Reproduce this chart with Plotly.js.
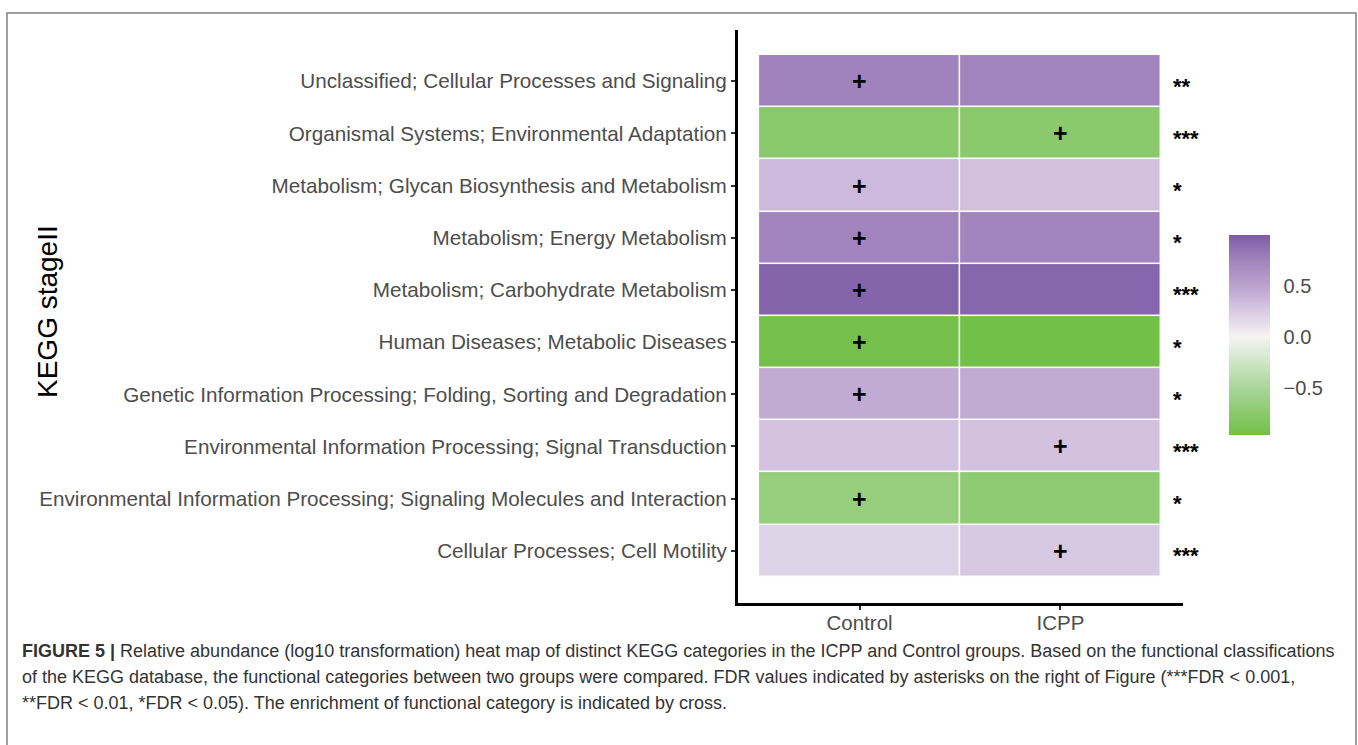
<!DOCTYPE html>
<html>
<head>
<meta charset="utf-8">
<script src="https://cdn.plot.ly/plotly-3.0.1.min.js"></script>
<style>
  html, body { margin: 0; padding: 0; background: #ffffff; }
  #chart { width: 1358px; height: 745px; }
</style>
</head>
<body>
<div id="chart"></div>
<script>
// KEGG level-II categories, listed bottom to top
const categories = [
  'Cellular Processes; Cell Motility',
  'Environmental Information Processing; Signaling Molecules and Interaction',
  'Environmental Information Processing; Signal Transduction',
  'Genetic Information Processing; Folding, Sorting and Degradation',
  'Human Diseases; Metabolic Diseases',
  'Metabolism; Carbohydrate Metabolism',
  'Metabolism; Energy Metabolism',
  'Metabolism; Glycan Biosynthesis and Metabolism',
  'Organismal Systems; Environmental Adaptation',
  'Unclassified; Cellular Processes and Signaling'
];
const groups = ['Control', 'ICPP'];

// relative abundance (log10, scaled) per category
const controlValues = [0.20, -0.66, 0.30, 0.45, -0.94, 0.95, 0.75, 0.36, -0.76, 0.76];
const icppValues    = [0.26, -0.72, 0.31, 0.45, -0.95, 0.94, 0.74, 0.32, -0.75, 0.75];

// group in which each category is enriched (marked with a cross)
const enrichedIn = ['ICPP', 'Control', 'ICPP', 'Control', 'Control', 'Control', 'Control', 'Control', 'ICPP', 'Control'];

// FDR significance marks
const fdrStars = ['***', '*', '***', '*', '*', '***', '*', '*', '***', '**'];

// colour bar ticks
const barTickValues = [-0.5, 0, 0.5];
const barTickLabels = ['\u22120.5', '0.0', '0.5'];

// ---------------------------------------------------------------
const W = 1358, H = 745;
const M = { l: 738, r: 175, t: 30, b: 142 };
const plotW = W - M.l - M.r, plotH = H - M.t - M.b;
const px = x => (x - M.l) / plotW;
const py = y => (H - M.b - y) / plotH;

const zMin = -0.96, zMax = 1.0;
const colorStops = [
  [-0.96, '#72bf46'],
  [-0.5,  '#a9d69a'],
  [0.0,   '#f4f4f2'],
  [0.25,  '#d9cbe4'],
  [0.5,   '#bba3cf'],
  [0.75,  '#a184bd'],
  [1.0,   '#7d5ca6']
];
const colorscale = colorStops.map(([v, c]) => [(v - zMin) / (zMax - zMin), c]);

// colour bar box (pixels)
const bar = { left: 1229, top: 235, width: 41, height: 200 };

const rowIdx = categories.map((_, i) => i);
const colIdx = groups.map((_, j) => j);
const z = categories.map((_, i) => [controlValues[i], icppValues[i]]);

const heat = {
  type: 'heatmap',
  x: colIdx,
  y: rowIdx,
  z: z,
  zmin: zMin,
  zmax: zMax,
  colorscale: colorscale,
  xgap: 1.5,
  ygap: 1.5,
  hoverinfo: 'skip',
  colorbar: {
    x: px(bar.left), xanchor: 'left', xref: 'paper', xpad: 0,
    y: py(bar.top + bar.height / 2), yanchor: 'middle', yref: 'paper', ypad: 0,
    len: bar.height, lenmode: 'pixels',
    thickness: bar.width, thicknessmode: 'pixels',
    outlinewidth: 0,
    tickmode: 'array', tickvals: barTickValues, ticktext: barTickLabels,
    ticks: 'outside', ticklen: 10, tickwidth: 1, tickcolor: 'rgba(255,255,255,0)',
    tickfont: { family: 'Liberation Sans, Arial, sans-serif', size: 20, color: '#4d4d4d' }
  }
};

const annotations = [];

// crosses for enrichment
categories.forEach((_, i) => {
  const j = groups.indexOf(enrichedIn[i]);
  annotations.push({
    x: colIdx[j], y: rowIdx[i], xref: 'x', yref: 'y',
    text: '<b>+</b>', showarrow: false,
    xanchor: 'center', yanchor: 'middle',
    font: { family: 'Liberation Sans, Arial, sans-serif', size: 25, color: '#000000' }
  });
});

// FDR asterisks right of the tiles
categories.forEach((_, i) => {
  annotations.push({
    x: 1.55, y: rowIdx[i], xref: 'x', yref: 'y',
    text: '<b>' + fdrStars[i] + '</b>', showarrow: false,
    xanchor: 'left', yanchor: 'middle', yshift: -5,
    font: { family: 'Liberation Sans, Arial, sans-serif', size: 22, color: '#000000' }
  });
});

// y-axis title
annotations.push({
  x: px(47), y: py(312), xref: 'paper', yref: 'paper',
  text: 'KEGG stageII', textangle: -90, showarrow: false,
  xanchor: 'center', yanchor: 'middle',
  font: { family: 'Liberation Sans, Arial, sans-serif', size: 28, color: '#000000' }
});

// figure caption
const captionLines = [
  '<b>FIGURE 5 |</b> Relative abundance (log10 transformation) heat map of distinct KEGG categories in the ICPP and Control groups. Based on the functional classifications',
  'of the KEGG database, the functional categories between two groups were compared. FDR values indicated by asterisks on the right of Figure (***FDR < 0.001,',
  '**FDR < 0.01, *FDR < 0.05). The enrichment of functional category is indicated by cross.'
];
const captionY = [651, 677, 703];
captionLines.forEach((t, k) => {
  annotations.push({
    x: px(20), y: py(captionY[k]), xref: 'paper', yref: 'paper',
    text: t, showarrow: false, xanchor: 'left', yanchor: 'middle', align: 'left',
    font: { family: 'Liberation Sans Narrow, Arial Narrow, Liberation Sans, sans-serif', size: 18, color: '#333333' }
  });
});

const shapes = [{
  type: 'rect', xref: 'paper', yref: 'paper',
  x0: px(7), x1: px(1356), y0: py(13), y1: py(770),
  line: { color: '#808080', width: 1.5 },
  fillcolor: 'rgba(0,0,0,0)', layer: 'above'
}];

const layout = {
  width: W, height: H,
  margin: M,
  paper_bgcolor: '#ffffff',
  plot_bgcolor: '#ffffff',
  showlegend: false,
  font: { family: 'Liberation Sans, Arial, sans-serif' },
  xaxis: {
    range: [-0.605, 1.61],
    tickmode: 'array', tickvals: colIdx, ticktext: groups,
    showgrid: false, zeroline: false,
    showline: true, linewidth: 3, linecolor: '#000000',
    ticks: 'outside', ticklen: 4, tickwidth: 2, tickcolor: '#333333',
    ticklabelstandoff: -5,
    tickfont: { size: 20.5, color: '#4d4d4d' },
    fixedrange: true
  },
  yaxis: {
    range: [-1.0, 9.98],
    tickmode: 'array', tickvals: rowIdx, ticktext: categories,
    showgrid: false, zeroline: false,
    showline: true, linewidth: 3, linecolor: '#000000',
    ticks: 'outside', ticklen: 4, tickwidth: 2, tickcolor: '#333333',
    tickfont: { size: 20.7, color: '#4d4d4d' },
    fixedrange: true
  },
  shapes: shapes,
  annotations: annotations
};

Plotly.newPlot('chart', [heat], layout, { displayModeBar: false, staticPlot: true });
</script>
</body>
</html>
